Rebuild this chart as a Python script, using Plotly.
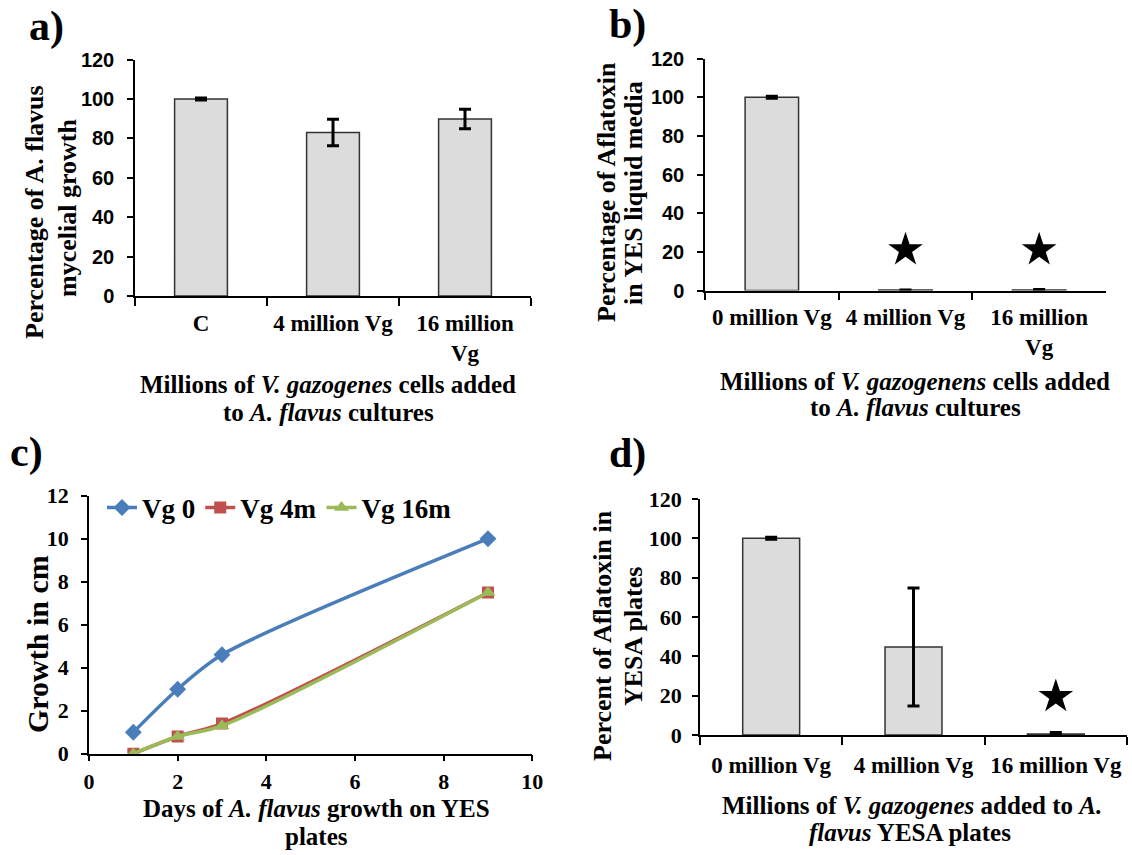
import plotly.graph_objects as go

W, H = 1132, 855

# ---------------- data ----------------
a_cats = ["C", "4 million Vg", "16 million<br>Vg"]
a_vals = [100, 83, 89.8]
a_errs = [0.5, 6.7, 4.9]

b_cats = ["0 million Vg", "4 million Vg", "16 million<br>Vg"]
b_vals = [100, 0.2, 0.3]
b_errs = [0.5, 0.1, 0.2]
b_star_cats = ["4 million Vg", "16 million<br>Vg"]
b_star_y = [21, 21]

c_days = [1, 2, 3, 9]
c_vg0 = [1.0, 3.0, 4.6, 10.0]
c_vg4 = [0.0, 0.8, 1.4, 7.5]
c_vg16 = [0.0, 0.8, 1.3, 7.5]

d_cats = ["0 million Vg", "4 million Vg", "16 million Vg"]
d_vals = [100, 44.7, 0.5]
d_errs = [0.5, 30, 0.8]
d_star_cats = ["16 million Vg"]
d_star_y = [19.5]

SERIF = "Liberation Serif"
SANS = "Liberation Sans"
BAR_FILL = "#DCDCDC"
BAR_LINE = "#333333"


def px(x):
    return x / W


def py(y):
    return 1 - y / H


fig = go.Figure()


def bar_trace(cats, vals, errs, xa, ya):
    return go.Bar(
        x=cats, y=vals, xaxis=xa, yaxis=ya,
        marker=dict(color=BAR_FILL, line=dict(color=BAR_LINE, width=1.5)),
        error_y=dict(type="data", array=errs, visible=True, color="black",
                     thickness=3, width=6),
        showlegend=False,
    )


fig.add_trace(bar_trace(a_cats, a_vals, a_errs, "x", "y"))
fig.add_trace(bar_trace(b_cats, b_vals, b_errs, "x2", "y2"))
fig.add_trace(go.Scatter(x=b_star_cats, y=b_star_y, xaxis="x2", yaxis="y2",
                         mode="markers", showlegend=False,
                         marker=dict(symbol="star", size=26, color="black")))

line_specs = [
    ("Vg 0", c_vg0, "#4A7EBB", "diamond", 13),
    ("Vg 4m", c_vg4, "#C0504D", "square", 12),
    ("Vg 16m", c_vg16, "#9BBB59", "triangle-up", 13),
]
for name, ys, col, sym, sz in line_specs:
    fig.add_trace(go.Scatter(
        x=c_days, y=ys, name=name, xaxis="x3", yaxis="y3",
        mode="lines+markers",
        line=dict(color=col, width=3.5, shape="spline", smoothing=0.8),
        marker=dict(symbol=sym, size=sz, color=col),
    ))

fig.add_trace(bar_trace(d_cats, d_vals, d_errs, "x4", "y4"))
fig.add_trace(go.Scatter(x=d_star_cats, y=d_star_y, xaxis="x4", yaxis="y4",
                         mode="markers", showlegend=False,
                         marker=dict(symbol="star", size=26, color="black")))


def cat_xaxis(x0, x1, yanchor, standoff):
    return dict(
        domain=[px(x0), px(x1)], anchor=yanchor, type="category",
        range=[-0.5, 2.5], showline=True, linecolor="black", linewidth=1.5,
        ticks="outside", tickson="boundaries", ticklen=8, tickcolor="black",
        tickwidth=1.5, showgrid=False, zeroline=False, tickangle=0,
        automargin=False, ticklabelstandoff=standoff,
        tickfont=dict(family=SERIF, size=23, color="black", weight="bold"),
        fixedrange=True,
    )


def val_yaxis(y0, y1, xanchor, rng, dtick, family, size, standoff):
    return dict(
        domain=[py(y0), py(y1)], anchor=xanchor, range=rng, dtick=dtick,
        showline=True, linecolor="black", linewidth=1.5, ticks="outside",
        ticklen=6, tickcolor="black", tickwidth=1.5, showgrid=False,
        zeroline=False, automargin=False, ticklabelstandoff=standoff,
        tickfont=dict(family=family, size=size, color="black", weight="bold"),
        fixedrange=True,
    )


layout = dict(
    width=W, height=H,
    margin=dict(l=0, r=0, t=0, b=0, pad=0, autoexpand=False),
    paper_bgcolor="white", plot_bgcolor="white",
    bargap=0.6,
    xaxis=cat_xaxis(135, 531, "y", 6),
    yaxis=val_yaxis(296, 59.5, "x", [0, 120], 20, SANS, 20, 9),
    xaxis2=cat_xaxis(705, 1106, "y2", 5),
    yaxis2=val_yaxis(290.5, 58.5, "x2", [0, 120], 20, SANS, 20, 9),
    xaxis3=dict(
        domain=[px(89), px(532.3)], anchor="y3", range=[0, 10], dtick=2,
        showline=True, linecolor="black", linewidth=1.5, ticks="outside",
        ticklen=6, tickcolor="black", tickwidth=1.5, showgrid=False,
        zeroline=False, automargin=False, ticklabelstandoff=1,
        tickfont=dict(family=SERIF, size=22, color="black", weight="bold"),
    ),
    yaxis3=val_yaxis(753.7, 495.7, "x3", [0, 12], 2, SERIF, 22, 8),
    xaxis4=cat_xaxis(700, 1127, "y4", 9),
    yaxis4=val_yaxis(735, 499, "x4", [0, 120], 20, SERIF, 22, 6),
    legend=dict(
        orientation="h", x=px(102), y=py(508), xanchor="left",
        yanchor="middle", bgcolor="rgba(0,0,0,0)",
        font=dict(family=SERIF, size=27, color="black", weight="bold"),
        itemwidth=30, tracegroupgap=0,
    ),
)
fig.update_layout(**layout)


def ann(text, x, y, size, angle=0):
    fig.add_annotation(
        text=text, x=px(x), y=py(y), xref="paper", yref="paper",
        showarrow=False, textangle=angle, xanchor="center", yanchor="middle",
        font=dict(family=SERIF, size=size, color="black", weight="bold"),
    )


# panel labels
ann("a)", 47, 26, 42)
ann("b)", 628, 25, 42)
ann("c)", 26, 452, 42)
ann("d)", 628, 453, 42)

# panel a titles
ann("Millions of <i>V. gazogenes</i> cells added", 328, 384, 25)
ann("to <i>A. flavus</i> cultures", 328, 412, 25)
ann("Percentage of A. flavus", 34, 212, 26, -90)
ann("mycelial growth", 68, 208, 26, -90)

# panel b titles
ann("Millions of <i>V. gazogenens</i> cells added", 915, 381, 25)
ann("to <i>A. flavus</i> cultures", 915, 407, 25)
ann("Percentage of Aflatoxin", 606, 192, 26, -90)
ann("in YES liquid media", 633, 193, 26, -90)

# panel c titles
ann("Days of <i>A. flavus</i> growth on YES", 316, 808, 25)
ann("plates", 316, 836, 25)
ann("Growth in cm", 37, 644, 30, -90)

# panel d titles
ann("Millions of <i>V. gazogenes</i> added to <i>A.</i>", 912, 805, 25)
ann("<i>flavus</i> YESA plates", 910, 832, 25)
ann("Percent of Aflatoxin in", 602, 636, 26, -90)
ann("YESA plates", 633, 637, 26, -90)

fig.write_html("out.html")
